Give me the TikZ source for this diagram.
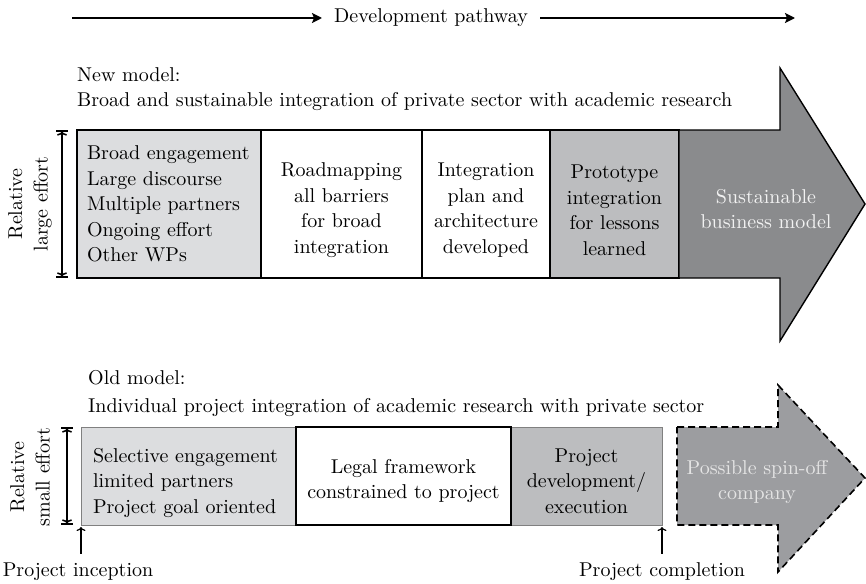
\documentclass[tikz,border=0pt]{standalone}
\usepackage{fontspec}
\setmainfont{lmroman10-regular.otf}
\usetikzlibrary{positioning,arrows.meta}
\definecolor{cellgray}{RGB}{220,221,223}
\definecolor{protogray}{RGB}{188,189,191}
\definecolor{arrowgray}{RGB}{138,139,141}
\definecolor{spingray}{RGB}{156,157,160}
\tikzset{
  every node/.style={font=\fontsize{20}{25.5}\selectfont, inner sep=0pt},
  cell/.style={draw, line width=1.4pt, outer sep=0pt, inner sep=0pt, align=center},
  newrow/.style={cell, minimum height=148pt},
  oldrow/.style={cell, minimum height=98pt},
  thincell/.style={draw=gray, line width=0.8pt},
  sunk/.style={execute at begin node={\rule{0pt}{#1}}},
  pathway/.style={line width=2.6pt, -{Stealth[length=10pt,width=10pt,inset=2pt]}},
  effort/.style={line width=1.6pt, {Bar[width=12pt]To[length=4pt,width=10pt]}-{To[length=4pt,width=10pt]Bar[width=12pt]}},
  pin/.style={line width=1.2pt, -{To[length=4pt,width=9pt]}, shorten <=9pt, shorten >=2pt}
}
\begin{document}
\begin{tikzpicture}[x=1pt,y=-1pt]
\useasboundingbox (0,0) rectangle (866,583);

% development pathway
\coordinate (pathstart) at (72,18);
\coordinate (pathend) at (795,18);
\node[inner xsep=12pt] (devpath) at (431,18) {Development pathway};
\draw[pathway] (pathstart) -- (devpath);
\draw[pathway] (devpath) -- (pathend);

% new model
\node[anchor=west] (newmodel) at (77,75) {New model:};
\node[anchor=west] (newgoal) at (77,102) {Broad and sustainable integration of private sector with academic research};

\node[newrow, fill=cellgray, align=left, text width=164pt, inner xsep=10pt, anchor=north west] (broad) at (77,130)
  {Broad engagement\\Large discourse\\Multiple partners\\Ongoing effort\\Other WPs};
\node[newrow, sunk=26pt, text width=161pt, right=0pt of broad] (roadmap) {Roadmapping\\all barriers\\for broad\\integration};
\node[newrow, sunk=26pt, text width=128pt, right=0pt of roadmap] (plan) {Integration\\plan and\\architecture\\developed};
\node[newrow, sunk=26pt, fill=protogray, text width=129pt, right=0pt of plan] (proto) {Prototype\\integration\\for lessons\\learned};
\filldraw[fill=arrowgray, line width=1.4pt] (proto.north east) -- (780,130) -- (780,68) -- (865,204)
  -- (780,341) -- (780,278) -- (proto.south east) -- cycle;
\node[text=white!95!black, align=center] (bizmodel) at (766,209) {Sustainable\\business model};

\node[rotate=90, align=center] (bigeffort) at (30,204) {Relative\\large effort};
\draw[effort] ([xshift=-15pt]broad.north west) -- ([xshift=-15pt]broad.south west);

% old model
\node[anchor=west] (oldmodel) at (88,378) {Old model:};
\node[anchor=west] (oldgoal) at (88,408) {Individual project integration of academic research with private sector};

\node[oldrow, sunk=28pt, thincell, fill=cellgray, align=left, text width=191pt, inner xsep=12pt, anchor=north west] (select) at (81,427)
  {Selective engagement\\limited partners\\Project goal oriented};
\node[oldrow, sunk=24pt, thincell, fill=protogray, text width=151pt, anchor=north west] (execute) at (511,427) {Project\\development/\\execution};
\node[oldrow, sunk=24pt, fill=white, text width=215pt, right=0pt of select] (legal) {Legal framework\\constrained to project};
\filldraw[fill=spingray, dash pattern=on 7pt off 4pt, line width=1.6pt] (677,427) -- (778,427) -- (778,385)
  -- (865,478) -- (778,572) -- (778,525) -- (677,525) -- cycle;
\node[text=white!90!black, align=center] (spinoff) at (757,482) {Possible spin-off\\company};

\node[rotate=90, align=center] (smalleffort) at (30,477) {Relative\\small effort};
\draw[effort] ([xshift=-14pt]select.north west) -- ([xshift=-14pt]select.south west);

\node (incep) at (78,572) {Project inception};
\node (compl) at (662,572) {Project completion};
\draw[pin] (incep.north -| select.south west) -- (select.south west);
\draw[pin] (compl.north -| execute.south east) -- (execute.south east);
\end{tikzpicture}
\end{document}
